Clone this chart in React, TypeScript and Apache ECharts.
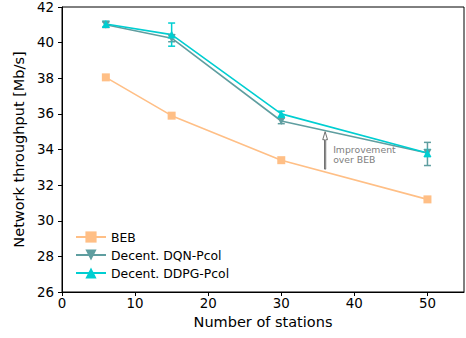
import React, { useEffect, useRef } from "react";
import * as echarts from "echarts";

const stations = [6, 15, 30, 50];
const bebValues = [38.05, 35.9, 33.4, 31.2];
const dqnValues = [41.0, 40.25, 35.6, 33.8];
const ddpgValues = [41.05, 40.45, 36.0, 33.8];
const dqnErrLow = [40.85, 40.05, 35.45, 33.1];
const dqnErrHigh = [41.15, 40.45, 35.75, 34.4];
const ddpgErrLow = [40.9, 39.8, 35.85, 33.6];
const ddpgErrHigh = [41.2, 41.1, 36.15, 34.0];
const seriesNames = ["BEB", "Decent. DQN-Pcol", "Decent. DDPG-Pcol"];
const colors = ["#ffbf86", "#5f9ea0", "#00ced1"];
const annotationX = 36;
const annotationFrom = 32.9;
const annotationTo = 35.0;
const annotationText = ["Improvement", "over BEB"];

const FONT = "DejaVu Sans";

function errorSeries(name: string, color: string, lows: number[], highs: number[]) {
  return {
    type: "custom",
    name,
    silent: true,
    z: 3,
    data: stations.map((s, i) => [s, lows[i], highs[i]]),
    renderItem: (params: any, api: any) => {
      const x = api.value(0);
      const lo = api.coord([x, api.value(1)]);
      const hi = api.coord([x, api.value(2)]);
      const cap = 3.5;
      const style = { stroke: color, lineWidth: 1.5 };
      return {
        type: "group",
        children: [
          { type: "line", shape: { x1: lo[0], y1: lo[1], x2: hi[0], y2: hi[1] }, style },
          { type: "line", shape: { x1: lo[0] - cap, y1: lo[1], x2: lo[0] + cap, y2: lo[1] }, style },
          { type: "line", shape: { x1: hi[0] - cap, y1: hi[1], x2: hi[0] + cap, y2: hi[1] }, style },
        ],
      };
    },
  };
}

export default function App() {
  const ref = useRef<HTMLDivElement>(null);
  useEffect(() => {
    const chart = echarts.init(ref.current!, null, { renderer: "svg" });
    const lineSeries = (i: number, vals: number[], symbol: string, size: number) => ({
      type: "line",
      name: seriesNames[i],
      data: stations.map((s, k) => [s, vals[k]]),
      symbol,
      symbolSize: size,
      showAllSymbol: true,
      lineStyle: { color: colors[i], width: 1.6 },
      itemStyle: { color: colors[i] },
      z: 4,
    });
    chart.setOption({
      animation: false,
      textStyle: { fontFamily: FONT },
      grid: {
        left: 62,
        right: 2,
        top: 7,
        bottom: 46,
        show: true,
        borderColor: "#000",
        borderWidth: 1,
      },
      legend: {
        left: 70,
        top: 226,
        orient: "vertical",
        itemGap: 6,
        itemWidth: 30,
        itemHeight: 14,
        textStyle: { fontFamily: FONT, fontSize: 12.4, color: "#000" },
        data: seriesNames,
      },
      xAxis: {
        type: "value",
        min: 0,
        max: 55,
        interval: 10,
        name: "Number of stations",
        nameLocation: "middle",
        nameGap: 21,
        nameTextStyle: { fontFamily: FONT, fontSize: 14.5, color: "#000" },
        axisLine: { lineStyle: { color: "#000" } },
        axisTick: { length: 4, lineStyle: { color: "#000" } },
        axisLabel: { fontFamily: FONT, fontSize: 13.4, color: "#000", margin: 5, showMaxLabel: false },
        splitLine: { show: false },
      },
      yAxis: {
        type: "value",
        min: 26,
        max: 42,
        interval: 2,
        name: "Network throughput [Mb/s]",
        nameLocation: "middle",
        nameGap: 31,
        nameTextStyle: { fontFamily: FONT, fontSize: 14.5, color: "#000" },
        axisLine: { lineStyle: { color: "#000" } },
        axisTick: { length: 4, lineStyle: { color: "#000" } },
        axisLabel: { fontFamily: FONT, fontSize: 13.4, color: "#000", margin: 8 },
        splitLine: { show: false },
      },
      series: [
        lineSeries(0, bebValues, "rect", 8),
        lineSeries(1, dqnValues, "path://M0,0 L10,0 L5,10 Z", 8),
        lineSeries(2, ddpgValues, "triangle", 8),
        errorSeries(seriesNames[1], colors[1], dqnErrLow, dqnErrHigh),
        errorSeries(seriesNames[2], colors[2], ddpgErrLow, ddpgErrHigh),
        {
          type: "custom",
          silent: true,
          z: 5,
          data: [[annotationX, annotationFrom, annotationTo]],
          renderItem: (params: any, api: any) => {
            const a = api.coord([api.value(0), api.value(1)]);
            const b = api.coord([api.value(0), api.value(2)]);
            const gray = "#606060";
            return {
              type: "group",
              children: [
                {
                  type: "polygon",
                  shape: {
                    points: [
                      [a[0] - 0.6, a[1]],
                      [a[0] - 0.6, b[1] + 8],
                      [a[0] - 2.4, b[1] + 8],
                      [b[0], b[1]],
                      [a[0] + 2.4, b[1] + 8],
                      [a[0] + 0.6, b[1] + 8],
                      [a[0] + 0.6, a[1]],
                    ],
                  },
                  style: { fill: "#fff", stroke: gray, lineWidth: 0.9 },
                },
                {
                  type: "text",
                  x: a[0] + 8,
                  y: b[1] + 13,
                  style: {
                    text: annotationText.join("\n"),
                    fill: "#808080",
                    fontFamily: FONT,
                    fontSize: 9.3,
                    lineHeight: 10,
                    textVerticalAlign: "top",
                  },
                },
              ],
            };
          },
        },
      ],
    });
    return () => chart.dispose();
  }, []);
  return <div ref={ref} style={{ width: 466, height: 338, position: "absolute", left: 0, top: 0 }} />;
}
